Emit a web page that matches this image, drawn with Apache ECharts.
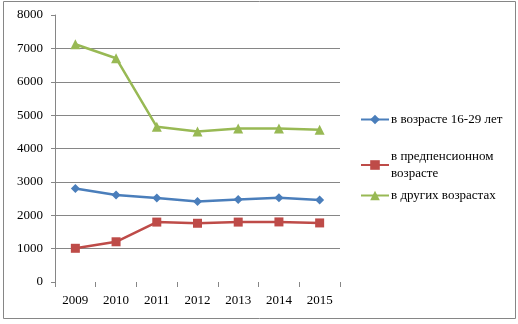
<!DOCTYPE html>
<html><head><meta charset="utf-8">
<script src="https://cdn.jsdelivr.net/npm/echarts@6/dist/echarts.min.js"></script>
<style>html,body{margin:0;padding:0;background:#fff}#c{width:518px;height:324px}</style>
</head><body><div id="c"></div>
<script>
const years = ['2009','2010','2011','2012','2013','2014','2015'];
const youth = [2800, 2605, 2515, 2410, 2475, 2525, 2455];
const prePension = [1010, 1205, 1795, 1760, 1795, 1800, 1770];
const otherAges = [7125, 6705, 4650, 4510, 4600, 4600, 4560];
const seriesNames = ['в возрасте 16-29 лет', 'в предпенсионном\nвозрасте', 'в других возрастах'];
const yTicks = [0, 1000, 2000, 3000, 4000, 5000, 6000, 7000, 8000];

const font = 'Liberation Serif';
const chart = echarts.init(document.getElementById('c'), null, {renderer: 'canvas'});
const gridColors = yTicks.map((v, i) => (i === 0 || i === yTicks.length - 1) ? 'rgba(0,0,0,0)' : '#868686');
function legend(name, top) {
  return {
    data: [name], orient: 'vertical', left: 360, top: top,
    itemWidth: 28, itemHeight: 12, itemGap: 4,
    textStyle: {fontFamily: font, fontSize: 13, color: '#000', lineHeight: 17, padding: [0,0,0,-3]},
    padding: 0
  };
}
chart.setOption({
  animation: false,
  graphic: [{type: 'rect', shape: {x: 3.5, y: 1.5, width: 512, height: 317}, style: {fill: 'none', stroke: '#868686', lineWidth: 1}}],
  grid: {left: 55, right: 178, top: 15, bottom: 42},
  legend: [legend(seriesNames[0], 111), legend(seriesNames[1], 148), legend(seriesNames[2], 187)],
  xAxis: {
    type: 'category', data: years, boundaryGap: true,
    axisLine: {show: false},
    axisTick: {show: true, length: 5, lineStyle: {color: '#868686'}},
    axisLabel: {fontFamily: font, fontSize: 13, color: '#000', margin: 12}
  },
  yAxis: {
    type: 'value', min: 0, max: 8000, interval: 1000,
    axisLine: {show: true, lineStyle: {color: '#868686'}},
    axisTick: {show: true, length: 4, lineStyle: {color: '#868686'}},
    axisLabel: {fontFamily: font, fontSize: 13, color: '#000', margin: 12, formatter: v => String(v)},
    splitLine: {show: true, lineStyle: {color: gridColors, width: 1}}
  },
  series: [
    {name: seriesNames[0], type: 'line', data: youth, symbol: 'diamond', symbolSize: 9,
     itemStyle: {color: '#4A7EBB'}, lineStyle: {color: '#4A7EBB', width: 2.5}},
    {name: seriesNames[1], type: 'line', data: prePension, symbol: 'rect', symbolSize: 9,
     itemStyle: {color: '#BE4B48'}, lineStyle: {color: '#BE4B48', width: 2.5}},
    {name: seriesNames[2], type: 'line', data: otherAges, symbol: 'triangle', symbolSize: 10,
     itemStyle: {color: '#98B954'}, lineStyle: {color: '#98B954', width: 2.5}}
  ]
});
</script></body></html>
